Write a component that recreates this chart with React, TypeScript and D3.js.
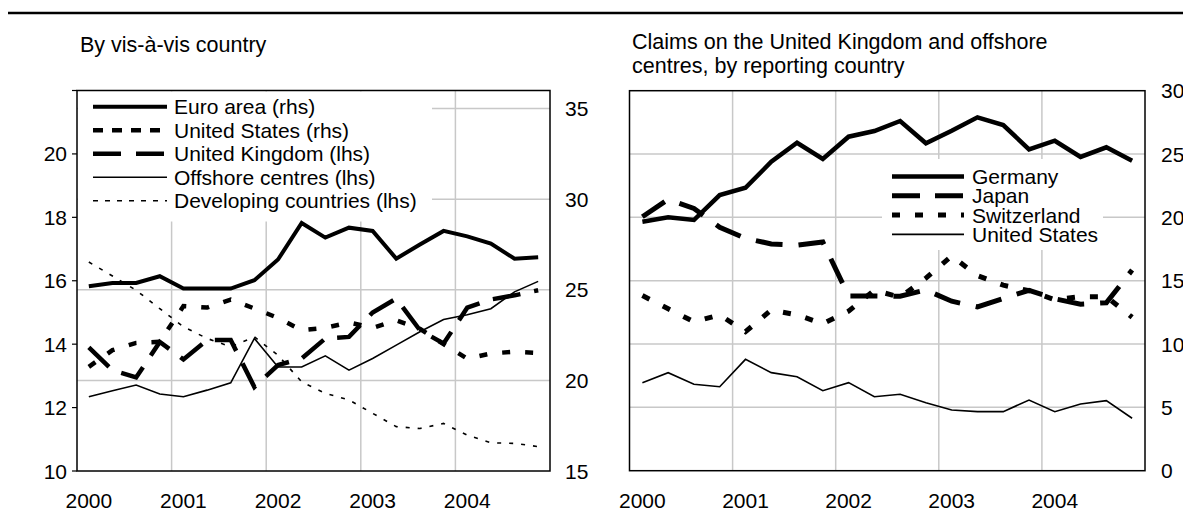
import React from "react";
import * as d3 from "d3";

// quarterly observations, 2000 Q1 .. 2004 Q4 (mid-quarter)
const quarters = [
  2000.125, 2000.375, 2000.625, 2000.875,
  2001.125, 2001.375, 2001.625, 2001.875,
  2002.125, 2002.375, 2002.625, 2002.875,
  2003.125, 2003.375, 2003.625, 2003.875,
  2004.125, 2004.375, 2004.625, 2004.875,
];
const yearLabels = [2000, 2001, 2002, 2003, 2004];

// left panel: by vis-a-vis country
const euroArea = [25.2, 25.38, 25.38, 25.75, 25.07, 25.07, 25.07, 25.53, 26.67, 28.69, 27.88, 28.43, 28.25, 26.72, 27.5, 28.25, 27.95, 27.55, 26.72, 26.8];
const unitedStatesRhs = [20.75, 21.67, 22.07, 22.13, 24.1, 24.02, 24.46, 23.97, 23.45, 22.77, 22.9, 23.2, 22.9, 23.32, 22.85, 22.0, 21.2, 21.49, 21.58, 21.52];
const unitedKingdom = [13.9, 13.18, 12.95, 14.07, 13.52, 14.13, 14.13, 12.65, 13.34, 13.55, 14.18, 14.23, 15.0, 15.44, 14.44, 14.02, 15.15, 15.41, 15.54, 15.7];
const offshoreCentres = [12.34, 12.53, 12.71, 12.43, 12.34, 12.55, 12.78, 14.18, 13.28, 13.28, 13.63, 13.18, 13.55, 13.97, 14.39, 14.78, 14.93, 15.12, 15.65, 15.98];
const developing = [16.59, 16.15, 15.7, 15.12, 14.55, 14.18, 13.92, 14.23, 13.65, 12.81, 12.45, 12.24, 11.82, 11.4, 11.34, 11.5, 11.13, 10.89, 10.87, 10.77];
const lhsTicks = [10, 12, 14, 16, 18, 20];
const rhsTicks = [15, 20, 25, 30, 35];

// right panel: claims on UK and offshore centres by reporting country
const germany = [19.66, 20.0, 19.79, 21.76, 22.34, 24.39, 25.89, 24.61, 26.37, 26.82, 27.61, 25.85, 26.84, 27.9, 27.29, 25.37, 26.05, 24.77, 25.53, 24.47];
const japan = [20.05, 21.42, 20.7, 19.22, 18.35, 17.9, 17.8, 18.05, 13.8, 13.8, 13.77, 14.27, 13.38, 12.93, 13.6, 14.24, 13.57, 13.15, 13.26, 15.84];
const switzerland = [13.83, 12.78, 11.76, 12.3, 10.97, 12.69, 12.3, 11.6, 12.6, 14.25, 13.7, 15.2, 16.95, 15.4, 14.65, 14.21, 13.5, 13.74, 13.74, 12.11];
const unitedStatesRep = [6.95, 7.74, 6.82, 6.63, 8.79, 7.74, 7.42, 6.32, 6.95, 5.84, 6.03, 5.37, 4.79, 4.66, 4.66, 5.58, 4.66, 5.27, 5.53, 4.14];
const rightTicks = [0, 5, 10, 15, 20, 25, 30];

const FONT = "Arial, 'Liberation Sans', Helvetica, sans-serif";
const GRID = "#c8c8c8";
const FS = 21;

type Style = { w: number; dash?: string; legendDash?: string };

const path = (x: d3.ScaleLinear<number, number>, y: d3.ScaleLinear<number, number>, vals: number[]) =>
  d3.line<number>().x((_, i) => x(quarters[i])).y((d) => y(d))(vals) || "";

const App: React.FC = () => {
  // left panel scales
  const lx = d3.scaleLinear().domain([2000, 2005]).range([77, 550]);
  const lyL = d3.scaleLinear().domain([10, 22]).range([471, 90.5]);
  const lyR = d3.scaleLinear().domain([15, 36]).range([471, 90.5]);

  // right panel scales
  const rx = d3.scaleLinear().domain([2000, 2005]).range([629.5, 1145]);
  const ry = d3.scaleLinear().domain([0, 30]).range([470.7, 90.7]);

  const leftSeries: { name: string; vals: number[]; axis: "l" | "r"; st: Style }[] = [
    { name: "Euro area (rhs)", vals: euroArea, axis: "r", st: { w: 4 } },
    { name: "United States (rhs)", vals: unitedStatesRhs, axis: "r", st: { w: 4.5, dash: "8,15", legendDash: "10,9" } },
    { name: "United Kingdom (lhs)", vals: unitedKingdom, axis: "l", st: { w: 4.5, dash: "28,14", legendDash: "28,15" } },
    { name: "Offshore centres (lhs)", vals: offshoreCentres, axis: "l", st: { w: 1.6 } },
    { name: "Developing countries (lhs)", vals: developing, axis: "l", st: { w: 1.6, dash: "4,8", legendDash: "5,7" } },
  ];

  const rightSeries: { name: string; vals: number[]; st: Style }[] = [
    { name: "Germany", vals: germany, st: { w: 4.5 } },
    { name: "Japan", vals: japan, st: { w: 5, dash: "27,16", legendDash: "28,15" } },
    { name: "Switzerland", vals: switzerland, st: { w: 5, dash: "8,15", legendDash: "8,15" } },
    { name: "United States", vals: unitedStatesRep, st: { w: 1.6 } },
  ];

  return (
    <svg width={1183} height={520} style={{ position: "absolute", left: 0, top: 0, background: "#fff" }} fontFamily={FONT}>
      <line x1={8} x2={1183} y1={13} y2={13} stroke="#000" strokeWidth={2.5} />

      {/* ---------- left panel ---------- */}
      <text x={80} y={52} fontSize={21.5}>By vis-à-vis country</text>

      {yearLabels.slice(1).map((yr) => (
        <line key={yr} x1={lx(yr)} x2={lx(yr)} y1={lyL(10)} y2={lyL(22)} stroke={GRID} strokeWidth={1.5} />
      ))}
      {rhsTicks.slice(1).map((t) => (
        <line key={t} x1={lx(2000)} x2={lx(2005)} y1={lyR(t)} y2={lyR(t)} stroke={GRID} strokeWidth={1.5} />
      ))}

      {/* legend box */}
      <rect x={78} y={91.5} width={354} height={130} fill="#fff" />
      {leftSeries.map((s, i) => {
        const cy = 106.7 + i * 23.5;
        return (
          <g key={s.name}>
            <line x1={93} x2={167} y1={cy} y2={cy} stroke="#000" strokeWidth={s.st.w} strokeDasharray={s.st.legendDash} />
            <text x={174} y={cy + 7.5} fontSize={FS}>{s.name}</text>
          </g>
        );
      })}

      {leftSeries.map((s) => (
        <path key={s.name} d={path(lx, s.axis === "l" ? lyL : lyR, s.vals)} fill="none" stroke="#000"
          strokeWidth={s.st.w} strokeDasharray={s.st.dash} strokeLinejoin="miter" />
      ))}

      <rect x={77} y={90.5} width={473} height={380.5} fill="none" stroke="#000" strokeWidth={1.5} />

      {[...lhsTicks, 22].map((t) => (
        <line key={t} x1={72} x2={77} y1={lyL(t)} y2={lyL(t)} stroke="#000" strokeWidth={1.2} />
      ))}
      {lhsTicks.map((t) => (
        <text key={t} x={67} y={lyL(t) + 7.5} fontSize={FS} textAnchor="end">{t}</text>
      ))}
      {rhsTicks.map((t) => (
        <text key={t} x={565} y={lyR(t) + 7.5} fontSize={FS}>{t}</text>
      ))}
      {yearLabels.map((yr) => (
        <text key={yr} x={lx(yr + 0.125)} y={508} fontSize={FS} textAnchor="middle">{yr}</text>
      ))}

      {/* ---------- right panel ---------- */}
      <text x={632} y={49} fontSize={21.5}>Claims on the United Kingdom and offshore</text>
      <text x={632} y={73} fontSize={21.5}>centres, by reporting country</text>

      {yearLabels.slice(1).map((yr) => (
        <line key={yr} x1={rx(yr)} x2={rx(yr)} y1={ry(0)} y2={ry(30)} stroke={GRID} strokeWidth={1.5} />
      ))}
      {rightTicks.slice(1, -1).map((t) => (
        <line key={t} x1={rx(2000)} x2={rx(2005)} y1={ry(t)} y2={ry(t)} stroke={GRID} strokeWidth={1.5} />
      ))}

      <rect x={882} y={159} width={221} height={91} fill="#fff" />
      {rightSeries.map((s, i) => {
        const cy = 176.5 + i * 19.3;
        return (
          <g key={s.name}>
            <line x1={892} x2={964} y1={cy} y2={cy} stroke="#000" strokeWidth={s.st.w} strokeDasharray={s.st.legendDash} />
            <text x={972} y={cy + 7.5} fontSize={FS}>{s.name}</text>
          </g>
        );
      })}

      {rightSeries.map((s) => (
        <path key={s.name} d={path(rx, ry, s.vals)} fill="none" stroke="#000"
          strokeWidth={s.st.w} strokeDasharray={s.st.dash} strokeLinejoin="miter" />
      ))}

      <rect x={629.5} y={90.7} width={515.5} height={380} fill="none" stroke="#000" strokeWidth={1.5} />

      {rightTicks.map((t) => (
        <text key={t} x={1161} y={ry(t) + 7.5} fontSize={FS}>{t}</text>
      ))}
      {yearLabels.map((yr) => (
        <text key={yr} x={rx(yr + 0.125)} y={508} fontSize={FS} textAnchor="middle">{yr}</text>
      ))}
    </svg>
  );
};

export default App;
